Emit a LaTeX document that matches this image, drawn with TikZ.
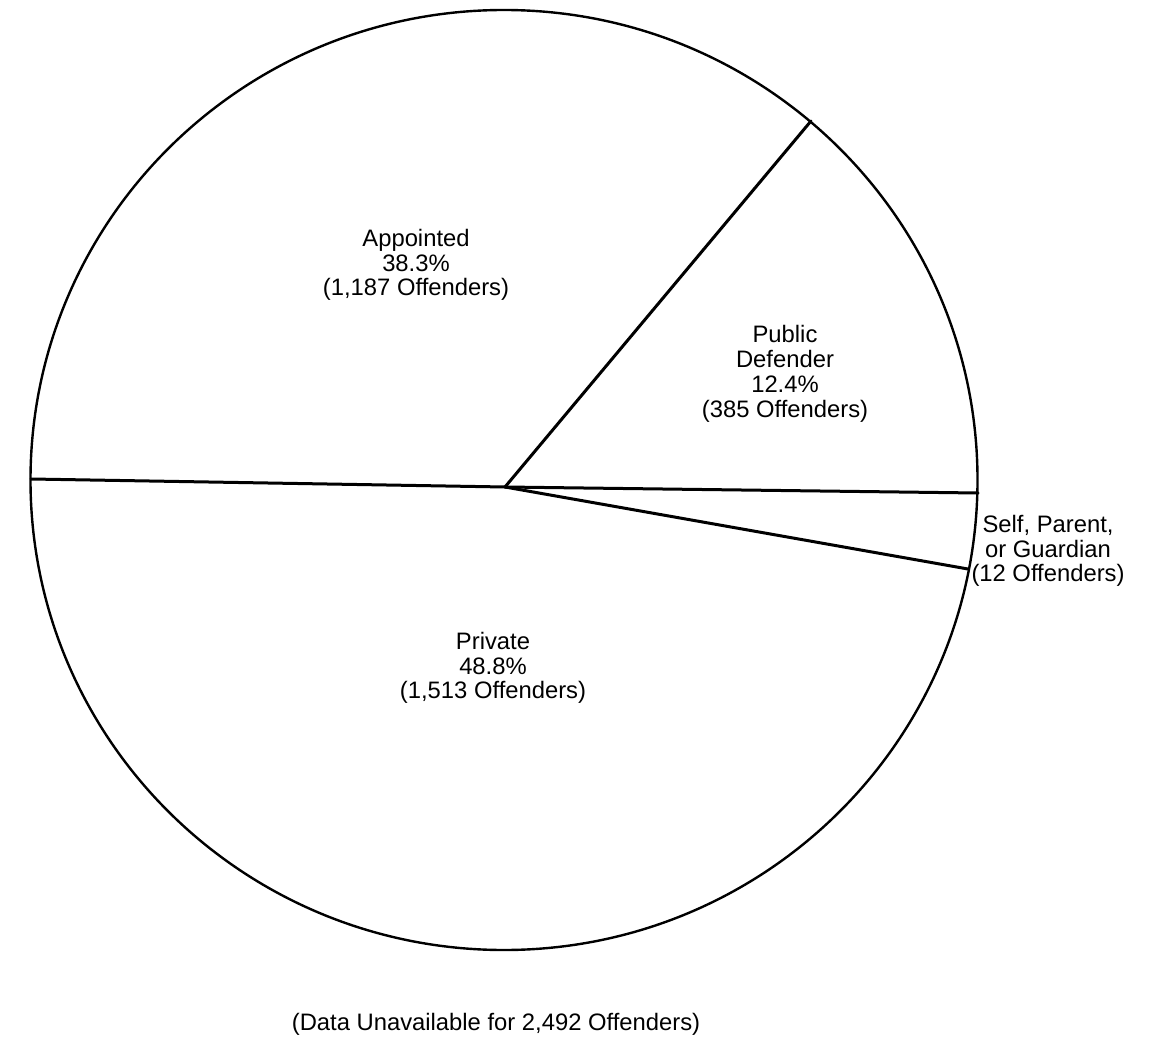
\documentclass[tikz,border=0pt]{standalone}
\usepackage{fontspec}
\setmainfont{Liberation Sans}
\begin{document}
\begin{tikzpicture}[x=0.5pt,y=-0.5pt,
  rim/.style={line width=1.2pt},
  spoke/.style={line width=1.5pt,line cap=round},
  lbl/.style={align=center,inner sep=0pt,font=\fontsize{11.9pt}{12.4pt}\selectfont}]
\useasboundingbox (0,0) rectangle (1154,1042);
\fill[white] (0,0) rectangle (1154,1042);
% circle (slightly elliptical as printed)
\draw[rim] (504,480) ellipse [x radius=473.5, y radius=470];
% spokes
\coordinate (hub) at (505,487);
\coordinate (pUR) at (811,121);
\coordinate (pR) at (978,493);
\coordinate (pRL) at (968,569);
\coordinate (pL) at (31,479);
\draw[spoke] (hub) -- (pUR);
\draw[spoke] (hub) -- (pR);
\draw[spoke] (hub) -- (pRL);
\draw[spoke] (hub) -- (pL);
% labels
\node[lbl] (appointed) at (416,265) {Appointed\\38.3\%\\(1,187 Offenders)};
\node[lbl] (public) at (785,374) {Public\\Defender\\12.4\%\\(385 Offenders)};
\node[lbl] (self) at (1048,551) {Self, Parent,\\or Guardian\\(12 Offenders)};
\node[lbl] (private) at (493,668) {Private\\48.8\%\\(1,513 Offenders)};
\node[lbl,anchor=base] (unavail) at (496,1030) {(Data Unavailable for 2,492 Offenders)};
\end{tikzpicture}
\end{document}
